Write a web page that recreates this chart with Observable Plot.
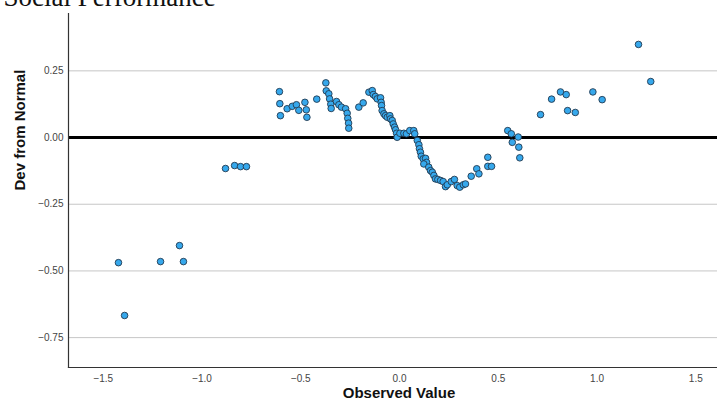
<!DOCTYPE html>
<html>
<head>
<meta charset="utf-8">
<script src="https://cdn.jsdelivr.net/npm/d3@7"></script>
<script src="https://cdn.jsdelivr.net/npm/@observablehq/plot@0.6"></script>
<style>
  html, body { margin: 0; padding: 0; background: #fff; }
  #chart { width: 717px; height: 408px; overflow: hidden; }
</style>
</head>
<body>
<div id="chart"></div>
<script>
const title = "Social Performance";
const xLabel = "Observed Value";
const yLabel = "Dev from Normal";
const xTicks = [-1.5, -1.0, -0.5, 0.0, 0.5, 1.0, 1.5];
const yTicks = [-0.75, -0.50, -0.25, 0.00, 0.25];

const observed = [
  -1.423, -1.392, -1.210, -1.114, -1.094, -0.881, -0.835, -0.805, -0.775,
  -0.608, -0.606, -0.603, -0.569, -0.543, -0.522, -0.510, -0.479, -0.472, -0.469,
  -0.419, -0.373, -0.371, -0.358, -0.354, -0.348, -0.346, -0.319, -0.307, -0.294,
  -0.273, -0.265, -0.262, -0.258, -0.257,
  -0.206, -0.184, -0.155, -0.138, -0.133, -0.122, -0.113, -0.096, -0.093, -0.091,
  -0.088, -0.079, -0.071, -0.062, -0.049, -0.046, -0.037, -0.032, -0.025, -0.020,
  -0.015, -0.012, 0.002, 0.022, 0.035, 0.052, 0.072, 0.077,
  0.090, 0.098, 0.101, 0.106, 0.110, 0.120, 0.132, 0.137, 0.123, 0.148, 0.157,
  0.166, 0.174, 0.182, 0.194, 0.208, 0.221, 0.233, 0.242, 0.262, 0.278, 0.292,
  0.305, 0.323, 0.334, 0.363, 0.391, 0.402, 0.447, 0.447, 0.466,
  0.548, 0.566, 0.571, 0.601, 0.604, 0.609, 0.714, 0.770, 0.815, 0.844, 0.851,
  0.890, 0.979, 1.026, 1.210, 1.272
];
const deviation = [
  -0.469, -0.667, -0.465, -0.405, -0.465, -0.116, -0.105, -0.109, -0.109,
  0.172, 0.127, 0.082, 0.108, 0.117, 0.123, 0.102, 0.132, 0.104, 0.076,
  0.144, 0.205, 0.175, 0.164, 0.145, 0.125, 0.109, 0.135, 0.123, 0.114,
  0.108, 0.091, 0.072, 0.054, 0.035,
  0.114, 0.130, 0.170, 0.176, 0.161, 0.154, 0.145, 0.149, 0.132, 0.120,
  0.101, 0.089, 0.082, 0.076, 0.082, 0.070, 0.064, 0.051, 0.039, 0.029,
  0.016, 0.001, 0.016, 0.016, 0.014, 0.026, 0.026, 0.014,
  -0.011, -0.027, -0.042, -0.055, -0.070, -0.080, -0.078, -0.093, -0.099, -0.111, -0.124,
  -0.130, -0.142, -0.155, -0.157, -0.161, -0.165, -0.184, -0.177, -0.165, -0.157, -0.180,
  -0.186, -0.177, -0.174, -0.145, -0.117, -0.136, -0.074, -0.108, -0.108,
  0.026, 0.014, -0.018, 0.002, -0.036, -0.076, 0.086, 0.144, 0.171, 0.161, 0.101,
  0.094, 0.171, 0.142, 0.349, 0.210
];

const points = observed.map((x, i) => ({x, y: deviation[i]}));
const font = "'Liberation Sans', Arial, Helvetica, sans-serif";

const chart = Plot.plot({
  width: 717,
  height: 408,
  marginLeft: 68,
  marginRight: 0,
  marginTop: 13,
  marginBottom: 41,
  style: {fontFamily: font, background: "#fff", overflow: "visible"},
  x: {domain: [-1.676, 1.610]},
  y: {domain: [-0.862, 0.465]},
  marks: [
    Plot.gridY(yTicks.filter(d => d !== 0), {stroke: "#c6c6c6", strokeOpacity: 1, strokeWidth: 1}),
    Plot.ruleY([0], {stroke: "#000", strokeWidth: 3}),
    Plot.frame({anchor: "left", stroke: "#333", strokeWidth: 1.2}),
    Plot.frame({anchor: "bottom", stroke: "#333", strokeWidth: 1.2}),
    Plot.axisY(yTicks, {tickSize: 0, tickPadding: 5, tickFormat: d3.format(".2f"), fontSize: 10, fill: "#444", label: null}),
    Plot.axisX(xTicks, {tickSize: 0, tickPadding: 7, tickFormat: d3.format(".1f"), fontSize: 10, fill: "#444", label: null}),
    Plot.dot(points, {x: "x", y: "y", r: 3.3, fill: "#36a8ec", stroke: "#223a50", strokeWidth: 0.9, fillOpacity: 1}),
    Plot.text([xLabel], {frameAnchor: "bottom", dx: 6, dy: 26, fontWeight: "bold", fontSize: 15, fill: "#111", lineAnchor: "middle"}),
    Plot.text([yLabel], {frameAnchor: "left", dx: -48, rotate: -90, fontWeight: "bold", fontSize: 15, fill: "#111", lineAnchor: "middle"}),
    Plot.text([title], {frameAnchor: "top-left", dx: -65, dy: -7.5, textAnchor: "start", lineAnchor: "bottom", fontSize: 27, fontFamily: "'Liberation Serif', 'Times New Roman', serif", fill: "#111"})
  ]
});
document.getElementById("chart").appendChild(chart);
</script>
</body>
</html>
